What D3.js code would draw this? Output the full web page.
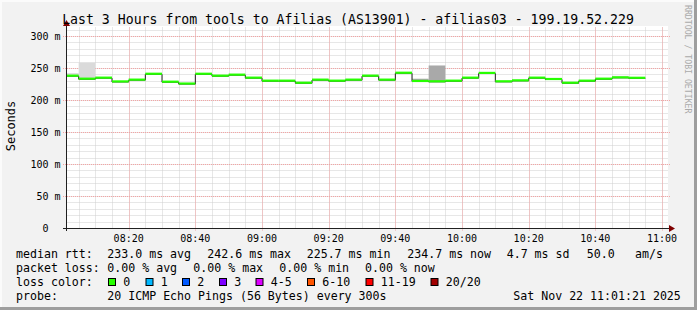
<!DOCTYPE html>
<html>
<head>
<meta charset="utf-8">
<script src="https://cdn.jsdelivr.net/npm/d3@7"></script>
<style>
  body { margin: 0; background: #f2f2f2; }
  svg text { font-family: "DejaVu Sans Mono", monospace; white-space: pre; }
</style>
</head>
<body>
<svg width="697" height="310"></svg>
<script>
const svg = d3.select('svg');

const width = +svg.attr('width');
const height = +svg.attr('height');

// 5 minute RRD steps, labelled by their end time
const stepEnds = ['08:05','08:10','08:15','08:20','08:25','08:30','08:35','08:40','08:45','08:50',
  '08:55','09:00','09:05','09:10','09:15','09:20','09:25','09:30','09:35','09:40',
  '09:45','09:50','09:55','10:00','10:05','10:10','10:15','10:20','10:25','10:30',
  '10:35','10:40','10:45','10:50','10:55'];

// median rtt in ms
const medianRtt = [238.0, 233.3, 234.9, 229.0, 231.8, 241.0, 228.6, 225.7, 241.0, 238.0,
  239.6, 234.9, 230.2, 230.2, 227.0, 231.8, 230.2, 231.8, 238.0, 231.8,
  242.6, 229.7, 229.2, 230.2, 234.9, 242.3, 229.2, 230.7, 234.9, 232.8,
  227.0, 230.2, 233.3, 235.4, 234.7];

// upper edge of the smoke (ms), null where it hides under the line
const smokeLight = [242.7, 259.0, null, null, null, null, null, null, null, null,
  null, null, null, null, null, null, null, null, null, null,
  null, null, null, null, null, null, null, null, null, null,
  null, null, null, 238.5, null];
const smokeDark = [null, null, null, null, null, null, null, null, null, null,
  null, null, null, null, null, null, null, null, null, null,
  null, 234.0, 254.7, null, null, null, null, null, null, null,
  null, null, null, null, null];

const yTickValues = [0, 50, 100, 150, 200, 250, 300];
const yTickLabels = ['0', '50 m', '100 m', '150 m', '200 m', '250 m', '300 m'];
const xTickLabels = ['08:20','08:40','09:00','09:20','09:40','10:00','10:20','10:40','11:00'];

const titleText = 'Last 3 Hours from tools to Afilias (AS13901) - afilias03 - 199.19.52.229';
const rttStats = ['233.0 ms avg', '242.6 ms max', '225.7 ms min', '234.7 ms now', '4.7 ms sd', '50.0', 'am/s'];
const lossStats = ['0.00 % avg', '0.00 % max', '0.00 % min', '0.00 % now'];
const lossLabels = ['0', '1', '2', '3', '4-5', '6-10', '11-19', '20/20'];
const lossColors = ['#26ff00', '#00b8ff', '#0059ff', '#7e00ff', '#dd00ff', '#ff5500', '#ff0000', '#a10000'];
const probeText = '20 ICMP Echo Pings (56 Bytes) every 300s';
const dateText = 'Sat Nov 22 11:01:21 2025';

const parseHM = d3.timeParse('%H:%M');
const parseHMS = d3.timeParse('%H:%M:%S');
const tStart = parseHMS('08:01:21');
const tEnd = parseHMS('11:01:21');

const x = d3.scaleTime().domain([tStart, tEnd]).range([66.5, 666.5]);
const y = d3.scaleLinear().domain([0, 315.6]).range([228.5, 26.5]);

// frame
svg.append('rect').attr('width', width).attr('height', height).attr('fill', '#f2f2f2');
svg.append('rect').attr('x', 0).attr('y', height - 3).attr('width', width).attr('height', 3).attr('fill', '#9e9e9e');
svg.append('rect').attr('x', width - 3).attr('y', 0).attr('width', 3).attr('height', height).attr('fill', '#9e9e9e');
svg.append('rect').attr('x', 0).attr('y', 0).attr('width', width - 3).attr('height', 2).attr('fill', '#fbfbfb');
svg.append('rect').attr('x', 0).attr('y', 0).attr('width', 2).attr('height', height - 3).attr('fill', '#fbfbfb');

// canvas
svg.append('rect')
  .attr('x', 66).attr('y', 26)
  .attr('width', 602).attr('height', 203)
  .attr('fill', '#ffffff');

const grid = svg.append('g');

// minor grid
const minorX = x.ticks(d3.timeMinute.every(5));
grid.selectAll('.vminor').data(minorX).enter().append('line')
  .attr('x1', d => Math.round(x(d)) + 0.5).attr('x2', d => Math.round(x(d)) + 0.5)
  .attr('y1', y(0)).attr('y2', 26.5)
  .attr('stroke', '#cfcfcf').attr('stroke-dasharray', '1,1');

const minorY = d3.range(10, 311, 10);
grid.selectAll('.hminor').data(minorY).enter().append('line')
  .attr('x1', 66.5).attr('x2', 668)
  .attr('y1', d => Math.round(y(d) - 0.5) + 0.5).attr('y2', d => Math.round(y(d) - 0.5) + 0.5)
  .attr('stroke', '#cfcfcf').attr('stroke-dasharray', '1,1');

// major grid
const majorX = xTickLabels.map(parseHM);
grid.selectAll('.vmajor').data(majorX).enter().append('line')
  .attr('x1', d => Math.round(x(d)) + 0.5).attr('x2', d => Math.round(x(d)) + 0.5)
  .attr('y1', y(0) + 2).attr('y2', 26.5)
  .attr('stroke', '#f5a3a3').attr('stroke-dasharray', '1,1');

grid.selectAll('.hmajor').data(yTickValues.slice(1)).enter().append('line')
  .attr('x1', 63).attr('x2', 670)
  .attr('y1', d => Math.round(y(d) - 0.5) + 0.5).attr('y2', d => Math.round(y(d) - 0.5) + 0.5)
  .attr('stroke', '#f5a3a3').attr('stroke-dasharray', '1,1');

// steps
const steps = stepEnds.map((s, i) => {
  const t1 = parseHM(s);
  const t0 = d3.max([tStart, d3.timeMinute.offset(t1, -5)]);
  return { t0, t1, v: medianRtt[i], light: smokeLight[i], dark: smokeDark[i] };
});

// smoke
svg.append('g').selectAll('rect')
  .data(steps.filter(d => d.light !== null))
  .enter().append('rect')
  .attr('x', d => x(d.t0)).attr('width', d => x(d.t1) - x(d.t0))
  .attr('y', d => y(d.light)).attr('height', d => y(d.v) - y(d.light))
  .attr('fill', '#dadada');

svg.append('g').selectAll('rect')
  .data(steps.filter(d => d.dark !== null))
  .enter().append('rect')
  .attr('x', d => x(d.t0)).attr('width', d => x(d.t1) - x(d.t0))
  .attr('y', d => y(d.dark)).attr('height', d => y(d.v) - y(d.dark))
  .attr('fill', '#a9a9a9');

// dark median step line
const stepPts = steps.map(d => [d.t0, d.v]);
stepPts.push([steps[steps.length - 1].t1, steps[steps.length - 1].v]);
svg.append('path')
  .datum(stepPts)
  .attr('fill', 'none')
  .attr('stroke', '#202020')
  .attr('stroke-width', 1)
  .attr('d', d3.line().x(d => x(d[0])).y(d => y(d[1])).curve(d3.curveStepAfter));

// loss-coloured median band
svg.append('g').selectAll('line')
  .data(steps)
  .enter().append('line')
  .attr('x1', d => x(d.t0)).attr('x2', d => x(d.t1))
  .attr('y1', d => y(d.v) - 0.5).attr('y2', d => y(d.v) - 0.5)
  .attr('stroke', lossColors[0])
  .attr('stroke-width', 2.2);

// axes
svg.append('line').attr('x1', 66.5).attr('x2', 66.5).attr('y1', 231).attr('y2', 24)
  .attr('stroke', '#202020');
svg.append('line').attr('x1', 63).attr('x2', 671).attr('y1', 228.5).attr('y2', 228.5)
  .attr('stroke', '#202020');
svg.append('path').attr('d', 'M63,26 L70,26 L66.5,20 Z').attr('fill', '#7f0000');
svg.append('path').attr('d', 'M669,225 L669,232 L675,228.5 Z').attr('fill', '#7f0000');

// tick labels
svg.append('g').selectAll('text')
  .data(yTickValues)
  .enter().append('text')
  .attr('x', (d, i) => yTickLabels[i].includes(' ') ? 60.5 : 60.5 - 12)
  .attr('y', d => y(d) + 3.5)
  .attr('text-anchor', 'end')
  .attr('font-size', '10px')
  .attr('fill', '#000')
  .text((d, i) => yTickLabels[i]);

svg.append('g').selectAll('text')
  .data(xTickLabels)
  .enter().append('text')
  .attr('x', d => x(parseHM(d)))
  .attr('y', 242)
  .attr('text-anchor', 'middle')
  .attr('font-size', '10px')
  .attr('fill', '#000')
  .text(d => d);

// title and side texts
svg.append('text')
  .attr('x', 348).attr('y', 24)
  .attr('text-anchor', 'middle')
  .attr('font-size', '13.2px')
  .attr('fill', '#000')
  .text(titleText);

svg.append('text')
  .attr('transform', 'translate(15,126) rotate(-90)')
  .attr('text-anchor', 'middle')
  .attr('font-size', '12px')
  .attr('fill', '#000')
  .text('Seconds');

svg.append('text')
  .attr('transform', 'translate(685,5) rotate(90)')
  .attr('font-size', '8.2px')
  .attr('fill', '#aaaaaa')
  .text('RRDTOOL / TOBI OETIKER');

// legend
const legend = svg.append('g').attr('font-size', '11.6px').attr('fill', '#000');
const rowY = [258, 272, 286, 300];

const addText = (tx, ty, s) => legend.append('text').attr('x', tx).attr('y', ty).text(s);

addText(16, rowY[0], 'median rtt:');
[107.3, 207.3, 306.7, 407.3, 506.7, 586.7, 635].forEach((px, i) => addText(px, rowY[0], rttStats[i]));

addText(16, rowY[1], 'packet loss:');
[107.3, 193.3, 279.3, 365].forEach((px, i) => addText(px, rowY[1], lossStats[i]));

addText(16, rowY[2], 'loss color:');
[108, 145.5, 182, 219, 255.5, 307, 365.5, 430.5].forEach((px, i) => {
  legend.append('rect')
    .attr('x', px + 0.5).attr('y', 278.5)
    .attr('width', 7).attr('height', 7)
    .attr('fill', lossColors[i])
    .attr('stroke', '#000');
  addText(px + 15.3, rowY[2], lossLabels[i]);
});

addText(16, rowY[3], 'probe:');
addText(107.3, rowY[3], probeText);
addText(513.3, rowY[3], dateText);
</script>
</body>
</html>
